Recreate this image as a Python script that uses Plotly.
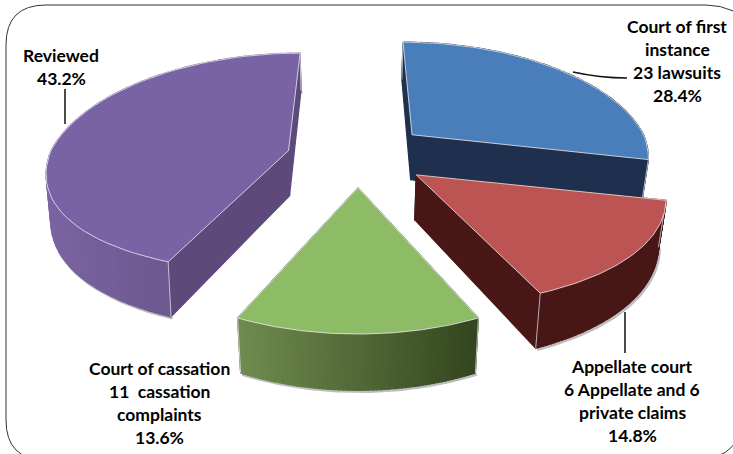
import numpy as np
import plotly.graph_objects as go

# ---- data ----
categories = ["Court of first instance", "Appellate court", "Court of cassation", "Reviewed"]
shares = [28.4, 14.8, 13.6, 43.2]
label_lines = [
    ["Court of first", "instance", "23 lawsuits", "28.4%"],
    ["Appellate court", "6 Appellate and 6", "private claims", "14.8%"],
    ["Court of cassation", "11  cassation", "complaints", "13.6%"],
    ["Reviewed", "43.2%"],
]
top_colors = ["#4a7ebb", "#bc5454", "#8dbb66", "#7a63a4"]
wall_left = ["#1f304f", "#481716", "#6f8c4f", "#7b64a2"]
wall_right = ["#1f304f", "#481716", "#33451e", "#5e4a7a"]
inner_colors = ["#1f304f", "#481716", "#4a6330", "#5e4a7a"]
pull = [0.30, 0.30, 0.25, 0.30]

# ---- look of the 3D pie ----
CX, CY, A, B, K, DEPTH = 358, 156, 240, 117, 0.2, 45
shrink = [0.975, 0.975, 0.975, 0.985]
width_scale = [0.965, 1.02, 0.99, 0.99]
back_scale = [0.95, 1.0, 1.0, 1.0]
front_squash = [0.2, 0.1, 0.0, 0.16]
apex_nudge = [0.0, -4.0, 1.0, 2.0]
draw_order = [3, 0, 1, 2]
label_xy = [(677, 26), (632, 366), (159, 368), (61, 55)]
LINE_PITCH = 23

cum = np.cumsum([0] + shares) / sum(shares) * 2 * np.pi


def project(i, u, v, ax, ay, lift=False):
    """Map a disk point (relative to slice apex) to the page."""
    v = np.asarray(v, float)
    w = 1 - K * v
    back = 1 / (1 - K * np.minimum(v, 0))
    x = ax + width_scale[i] * A * np.asarray(u) / w + (ax - CX) * (back - 1)
    yscale = np.where(v < 0, back_scale[i], 1 - front_squash[i] * np.maximum(v, 0))
    y = ay + yscale * B * v / w
    if lift:
        x = CX + (x - CX) * shrink[i]
        y = y + DEPTH / w
    return x, y


def poly(xs, ys, color, line=None, width=0.0):
    return go.Scatter(
        x=list(xs), y=list(ys), mode="lines", fill="toself", fillcolor=color,
        line=dict(color=line or color, width=width if line else 1.2),
        hoverinfo="skip", showlegend=False,
    )


def mix(c1, c2, t):
    a = [int(c1[i:i + 2], 16) for i in (1, 3, 5)]
    b = [int(c2[i:i + 2], 16) for i in (1, 3, 5)]
    return "#" + "".join(f"{round(p + (q - p) * t):02x}" for p, q in zip(a, b))


fig = go.Figure()
for i in draw_order:
    t0, t1 = cum[i], cum[i + 1]
    mid = (t0 + t1) / 2
    e = pull[i]
    ax = CX + A * e * np.sin(mid) / (1 + K * e * np.cos(mid))
    ay = CY - B * e * np.cos(mid) / (1 + K * e * np.cos(mid)) + apex_nudge[i]
    th = np.linspace(t0, t1, 60)
    u, v = np.sin(th), -np.cos(th)
    tx, ty = project(i, u, v, ax, ay)
    bx, by = project(i, u, v, ax, ay, lift=True)
    apx, apy = project(i, 0.0, 0.0, ax, ay)
    abx, aby = project(i, 0.0, 0.0, ax, ay, lift=True)

    # soft shadow under the outer edge
    fig.add_trace(go.Scatter(x=bx + 1.5, y=by + 1.5, mode="lines",
                             line=dict(color="rgba(110,110,110,0.45)", width=2.5),
                             hoverinfo="skip", showlegend=False))

    # inner radial walls
    for j in (0, -1):
        fig.add_trace(poly([apx, tx[j], bx[j], abx, apx], [apy, ty[j], by[j], aby, apy], inner_colors[i]))

    # outer wall as short strips, shaded from left to right
    lo, hi = tx.min(), tx.max()
    for j in range(len(th) - 1):
        shade = mix(wall_left[i], wall_right[i], ((tx[j] + tx[j + 1]) / 2 - lo) / (hi - lo))
        fig.add_trace(poly([tx[j], tx[j + 1], bx[j + 1], bx[j], tx[j]],
                           [ty[j], ty[j + 1], by[j + 1], by[j], ty[j]], shade))

    # pale edges between the walls
    for j in (0, -1):
        fig.add_trace(go.Scatter(x=[tx[j], bx[j]], y=[ty[j], by[j]], mode="lines",
                                 line=dict(color="rgba(225,225,235,0.75)", width=1),
                                 hoverinfo="skip", showlegend=False))

    # top face
    fig.add_trace(poly(np.r_[apx, tx, apx], np.r_[apy, ty, apy], top_colors[i],
                       line="rgba(235,235,240,0.8)", width=1))

# leader lines
leaders = [
    "M 65 89 L 65 124",
    "M 573 72 Q 600 78 627 78",
    "M 625 312 L 625 353",
]
shapes = [dict(type="path", path=p, line=dict(color="#111111", width=1.5), layer="above") for p in leaders]
# rounded frame, running off the right and bottom edges
shapes.append(dict(
    type="path",
    path="M 46 5 L 706 5 Q 735 5 760 30 L 760 380 L 745 405 Q 745 460 695 460 L 46 460 Q 6 460 6 420 L 6 45 Q 6 5 46 5 Z",
    line=dict(color="#333333", width=1), layer="below",
))

annotations = []
for lines, (lx, ly) in zip(label_lines, label_xy):
    for n, text in enumerate(lines):
        annotations.append(dict(
            x=lx, y=ly + n * LINE_PITCH, xref="x", yref="y", text=text, showarrow=False,
            xanchor="center", yanchor="middle",
            font=dict(family="Lato", size=17.5, color="#000000", weight="bold"),
        ))

fig.update_layout(
    width=733, height=454, margin=dict(l=0, r=0, t=0, b=0),
    paper_bgcolor="white", plot_bgcolor="white", showlegend=False,
    xaxis=dict(range=[0, 733], visible=False, fixedrange=True),
    yaxis=dict(range=[454, 0], visible=False, fixedrange=True),
    shapes=shapes, annotations=annotations,
)
fig.write_html("out.html", config={"displayModeBar": False},
               post_script="document.body.style.margin='0';document.body.style.overflow='hidden';")
